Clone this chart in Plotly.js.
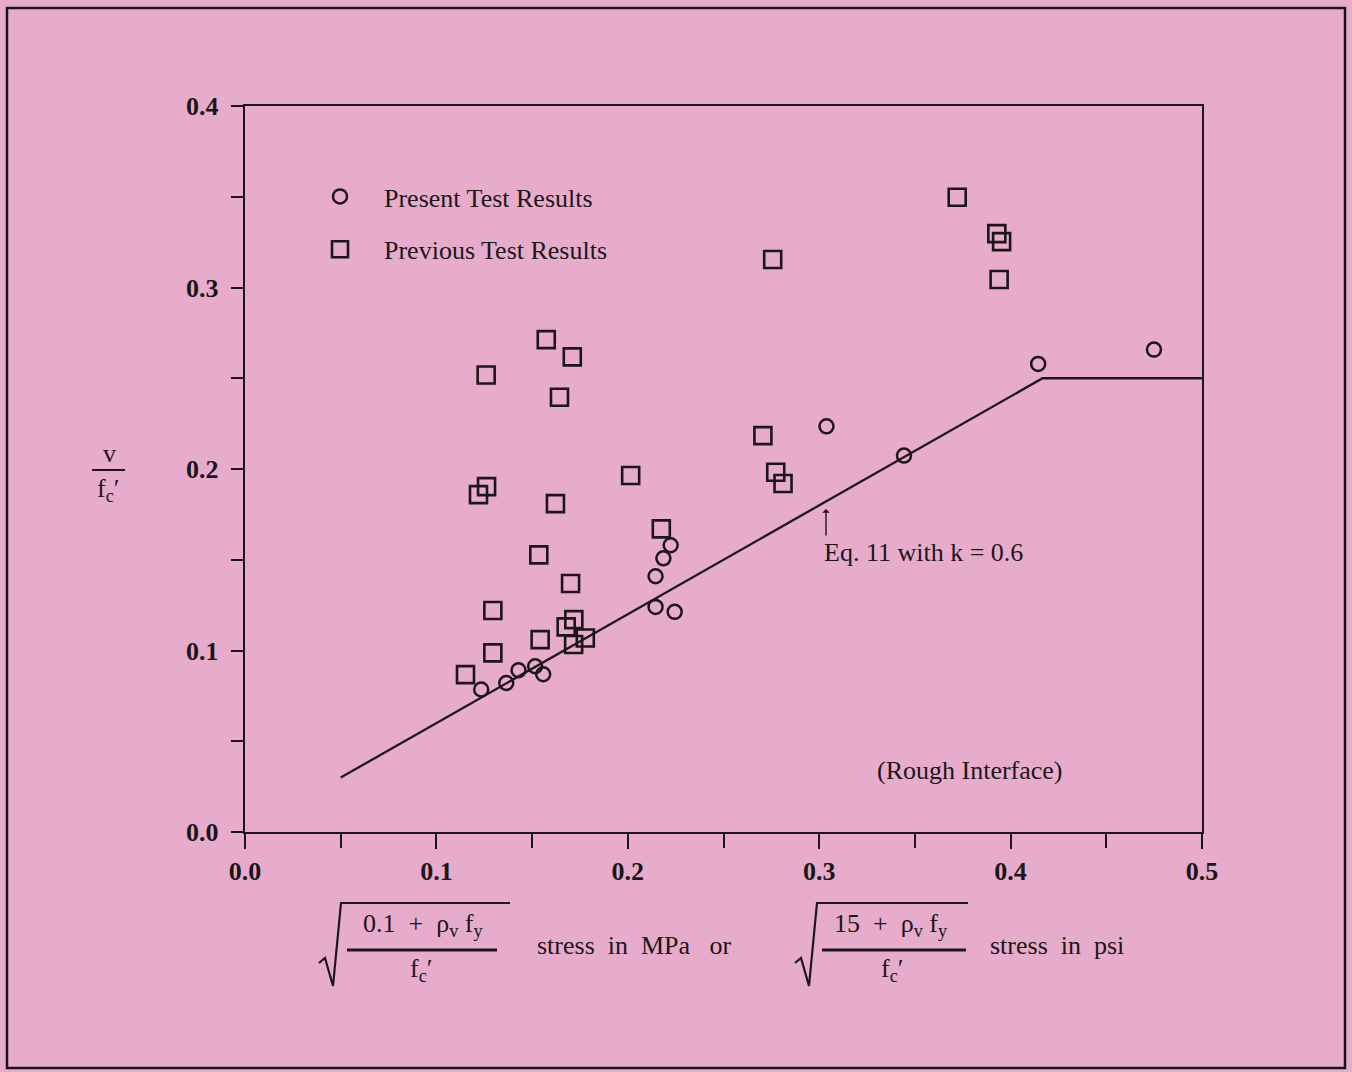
<!DOCTYPE html>
<html>
<head>
<meta charset="utf-8">
<script src="https://cdn.plot.ly/plotly-3.0.1.min.js"></script>
<style>
  html, body { margin: 0; padding: 0; background: #e7accc; }
  #chart { width: 1352px; height: 1072px; }
</style>
</head>
<body>
<div id="chart"></div>
<script>
// ---- data ----
const presentX = [0.1234, 0.1365, 0.1429, 0.1516, 0.1558, 0.2224, 0.2186, 0.2145, 0.2145, 0.2245, 0.3038, 0.3443, 0.4144, 0.4749];
const presentY = [0.0785, 0.0821, 0.0891, 0.0913, 0.0869, 0.1580, 0.1508, 0.1409, 0.1240, 0.1213, 0.2235, 0.2074, 0.2579, 0.2658];

const previousX = [0.1574, 0.1710, 0.1260, 0.1643, 0.2015, 0.1262, 0.1220, 0.1622, 0.2175, 0.1535, 0.1701, 0.1295, 0.1718, 0.1678, 0.1542, 0.1778, 0.1717, 0.1295, 0.1152, 0.2706, 0.2773, 0.2811, 0.2757, 0.3721, 0.3928, 0.3953, 0.3940];
const previousY = [0.2713, 0.2618, 0.2518, 0.2395, 0.1964, 0.1903, 0.1859, 0.1809, 0.1670, 0.1527, 0.1369, 0.1220, 0.1170, 0.1130, 0.1060, 0.1069, 0.1033, 0.0987, 0.0867, 0.2184, 0.1982, 0.1920, 0.3154, 0.3497, 0.3297, 0.3253, 0.3044];

const eqX = [0.05, 0.4167, 0.5];
const eqY = [0.03, 0.25, 0.25];

const xTickVals = [0, 0.1, 0.2, 0.3, 0.4, 0.5];
const xTickText = ['0.0', '0.1', '0.2', '0.3', '0.4', '0.5'];
const xMinorVals = [0.05, 0.15, 0.25, 0.35, 0.45];
const yTickVals = [0, 0.1, 0.2, 0.3, 0.4];
const yTickText = ['0.0', '0.1', '0.2', '0.3', '0.4'];
const yMinorVals = [0.05, 0.15, 0.25, 0.35];

const seriesNames = ['Present Test Results', 'Previous Test Results'];

// ---- layout helpers (pixel -> paper) ----
const W = 1352, H = 1072;
const M = {l: 245, r: 150, t: 106, b: 240};
const PW = W - M.l - M.r, PH = H - M.t - M.b;
const px = v => (v - M.l) / PW;
const py = v => (H - M.b - v) / PH;

const INK = '#1c1619';
const BG = '#e7accc';
const SERIF = 'Liberation Serif, Times New Roman, serif';

const traces = [
  {
    x: eqX, y: eqY, type: 'scatter', mode: 'lines',
    line: {color: INK, width: 2.3}, showlegend: false, hoverinfo: 'skip'
  },
  {
    x: presentX, y: presentY, type: 'scatter', mode: 'markers', name: seriesNames[0],
    legendgroup: 'a',
    marker: {symbol: 'circle-open', size: 14, color: INK, line: {width: 2.5, color: INK}}
  },
  {
    x: previousX, y: previousY, type: 'scatter', mode: 'markers', name: seriesNames[1],
    legendgroup: 'b',
    marker: {symbol: 'square-open', size: 17, color: INK, line: {width: 2.6, color: INK}}
  }
];

function path(pts) {
  return pts.map((p, i) => (i ? 'L' : 'M') + px(p[0]).toFixed(5) + ',' + py(p[1]).toFixed(5)).join(' ');
}

const shapes = [
  // outer frame
  {type: 'rect', xref: 'paper', yref: 'paper', x0: px(7), x1: px(1345), y0: py(1068), y1: py(8),
   line: {color: INK, width: 2.5}, layer: 'below'},
  // y-axis label fraction bar
  {type: 'line', xref: 'paper', yref: 'paper', x0: px(92), x1: px(125), y0: py(470), y1: py(470),
   line: {color: INK, width: 2}},
  // first radical
  {type: 'path', xref: 'paper', yref: 'paper', path: path([[319, 963], [325, 958], [333, 986], [341, 903], [510, 903]]),
   line: {color: INK, width: 2.2}},
  {type: 'line', xref: 'paper', yref: 'paper', x0: px(347), x1: px(497), y0: py(950), y1: py(950),
   line: {color: INK, width: 2.8}},
  // second radical
  {type: 'path', xref: 'paper', yref: 'paper', path: path([[795, 963], [801, 958], [809, 986], [817, 903], [968, 903]]),
   line: {color: INK, width: 2.2}},
  {type: 'line', xref: 'paper', yref: 'paper', x0: px(822), x1: px(966), y0: py(950), y1: py(950),
   line: {color: INK, width: 2.8}}
];

function ann(text, x, y, opts) {
  return Object.assign({
    text: text, xref: 'paper', yref: 'paper', x: px(x), y: py(y),
    xanchor: 'center', yanchor: 'middle', showarrow: false,
    font: {family: SERIF, size: 26, color: INK}
  }, opts || {});
}

const annotations = [
  ann('v', 109, 454),
  ann('f<sub>c</sub>\u2032', 108, 490),
  ann('0.1\u00a0\u00a0+\u00a0\u00a0\u03c1<sub>v</sub>\u00a0f<sub>y</sub>', 423, 925),
  ann('f<sub>c</sub>\u2032', 421, 970),
  ann('stress\u00a0\u00a0in\u00a0\u00a0MPa\u00a0\u00a0\u00a0or', 634, 945),
  ann('15\u00a0\u00a0+\u00a0\u00a0\u03c1<sub>v</sub>\u00a0f<sub>y</sub>', 891, 925),
  ann('f<sub>c</sub>\u2032', 892, 970),
  ann('stress\u00a0\u00a0in\u00a0\u00a0psi', 1057, 945),
  // arrow pointing to the line
  {text: '', xref: 'paper', yref: 'paper', x: px(826), y: py(509), showarrow: true,
   ax: 0, ay: 28, arrowhead: 1, arrowsize: 0.9, arrowwidth: 1.4, arrowcolor: INK, standoff: 0},
  ann('Eq. 11 with k = 0.6', 822, 552, {xanchor: 'left'}),
  ann('(Rough Interface)', 970, 770)
];

const axisCommon = {
  showgrid: false, zeroline: false, showline: true, linecolor: INK, linewidth: 2.2, mirror: true,
  ticks: 'outside', tickcolor: INK, tickwidth: 2, tickmode: 'array',
  tickfont: {family: SERIF, size: 26, color: INK, weight: 'bold'}
};

const layout = {
  width: W, height: H,
  margin: M,
  paper_bgcolor: BG, plot_bgcolor: BG,
  showlegend: true,
  legend: {
    x: px(296), y: py(173), xanchor: 'left', yanchor: 'top',
    bgcolor: 'rgba(0,0,0,0)', borderwidth: 0,
    font: {family: SERIF, size: 26, color: INK},
    traceorder: 'grouped', tracegroupgap: 16, itemwidth: 78
  },
  xaxis: Object.assign({}, axisCommon, {
    range: [0, 0.5], tickvals: xTickVals, ticktext: xTickText, ticklen: 15, ticklabelstandoff: 0,
    minor: {tickmode: 'array', tickvals: xMinorVals, ticks: 'outside', ticklen: 14, tickwidth: 2, tickcolor: INK, showgrid: false}
  }),
  yaxis: Object.assign({}, axisCommon, {
    range: [0, 0.4], tickvals: yTickVals, ticktext: yTickText, ticklen: 12, ticklabelstandoff: 7,
    minor: {tickmode: 'array', tickvals: yMinorVals, ticks: 'outside', ticklen: 12, tickwidth: 2, tickcolor: INK, showgrid: false}
  }),
  shapes: shapes,
  annotations: annotations
};

Plotly.newPlot('chart', traces, layout, {displayModeBar: false, staticPlot: true});
</script>
</body>
</html>
